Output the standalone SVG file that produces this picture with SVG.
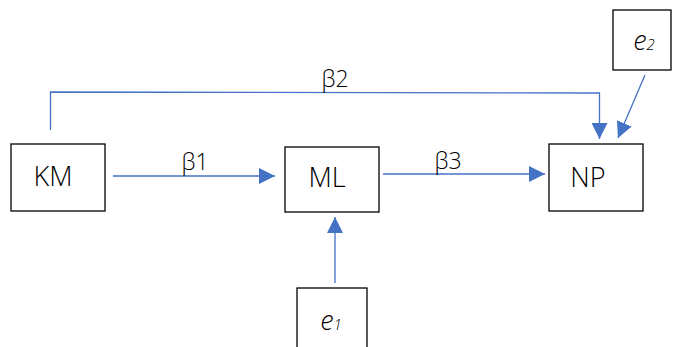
<svg xmlns="http://www.w3.org/2000/svg" width="673" height="347" viewBox="0 0 673 347">
  <defs>
    <marker id="arrow" viewBox="0 0 10 10" refX="10" refY="5" markerWidth="16" markerHeight="16" markerUnits="userSpaceOnUse" orient="auto">
      <path d="M0,0 L10,5 L0,10 Z" fill="#4472C4"/>
    </marker>
    <style>
      .box { fill: #ffffff; stroke: #000000; stroke-width: 1.3; }
      .lbl { font-family: "Open Sans", "Noto Sans", sans-serif; font-weight: 300; font-size: 27px; fill: #000000; text-anchor: middle; }
      .beta { font-family: "Open Sans", "Noto Sans", sans-serif; font-weight: 300; font-size: 23px; fill: #000000; text-anchor: middle; }
      .err { font-family: "Open Sans", "Noto Sans", sans-serif; font-weight: 300; font-style: italic; font-size: 27px; fill: #000000; text-anchor: middle; }
      .sub { font-size: 15px; }
      .edge { fill: none; stroke: #4472C4; stroke-width: 1.3; }
    </style>
  </defs>

  <!-- connectors -->
  <g id="connectors">
    <path class="edge" d="M113,176 L275,176" marker-end="url(#arrow)"/>
    <path class="edge" d="M383,174 L545,174" marker-end="url(#arrow)"/>
    <path class="edge" d="M50.5,130 L50.5,92 L599.5,93 L599.5,139" marker-end="url(#arrow)"/>
    <path class="edge" d="M645,75 L618,138" marker-end="url(#arrow)"/>
    <path class="edge" d="M335,283 L335,217" marker-end="url(#arrow)"/>
    <text class="beta" x="195" y="170">β1</text>
    <text class="beta" x="335" y="87">β2</text>
    <text class="beta" x="448" y="169">β3</text>
  </g>

  <g id="KM">
    <rect class="box" x="11" y="144" width="94" height="67"/>
    <text class="lbl" x="53" y="186">KM</text>
  </g>

  <g id="ML">
    <rect class="box" x="285" y="147" width="94" height="65"/>
    <text class="lbl" x="327" y="187">ML</text>
  </g>

  <g id="NP">
    <rect class="box" x="549" y="144" width="94" height="67"/>
    <text class="lbl" x="588" y="187">NP</text>
  </g>

  <g id="e2">
    <rect class="box" x="613" y="10" width="58" height="60"/>
    <text class="err" x="644" y="50">e<tspan class="sub">2</tspan></text>
  </g>

  <g id="e1">
    <rect class="box" x="297" y="288" width="70" height="62"/>
    <text class="err" x="331" y="330">e<tspan class="sub">1</tspan></text>
  </g>
</svg>
